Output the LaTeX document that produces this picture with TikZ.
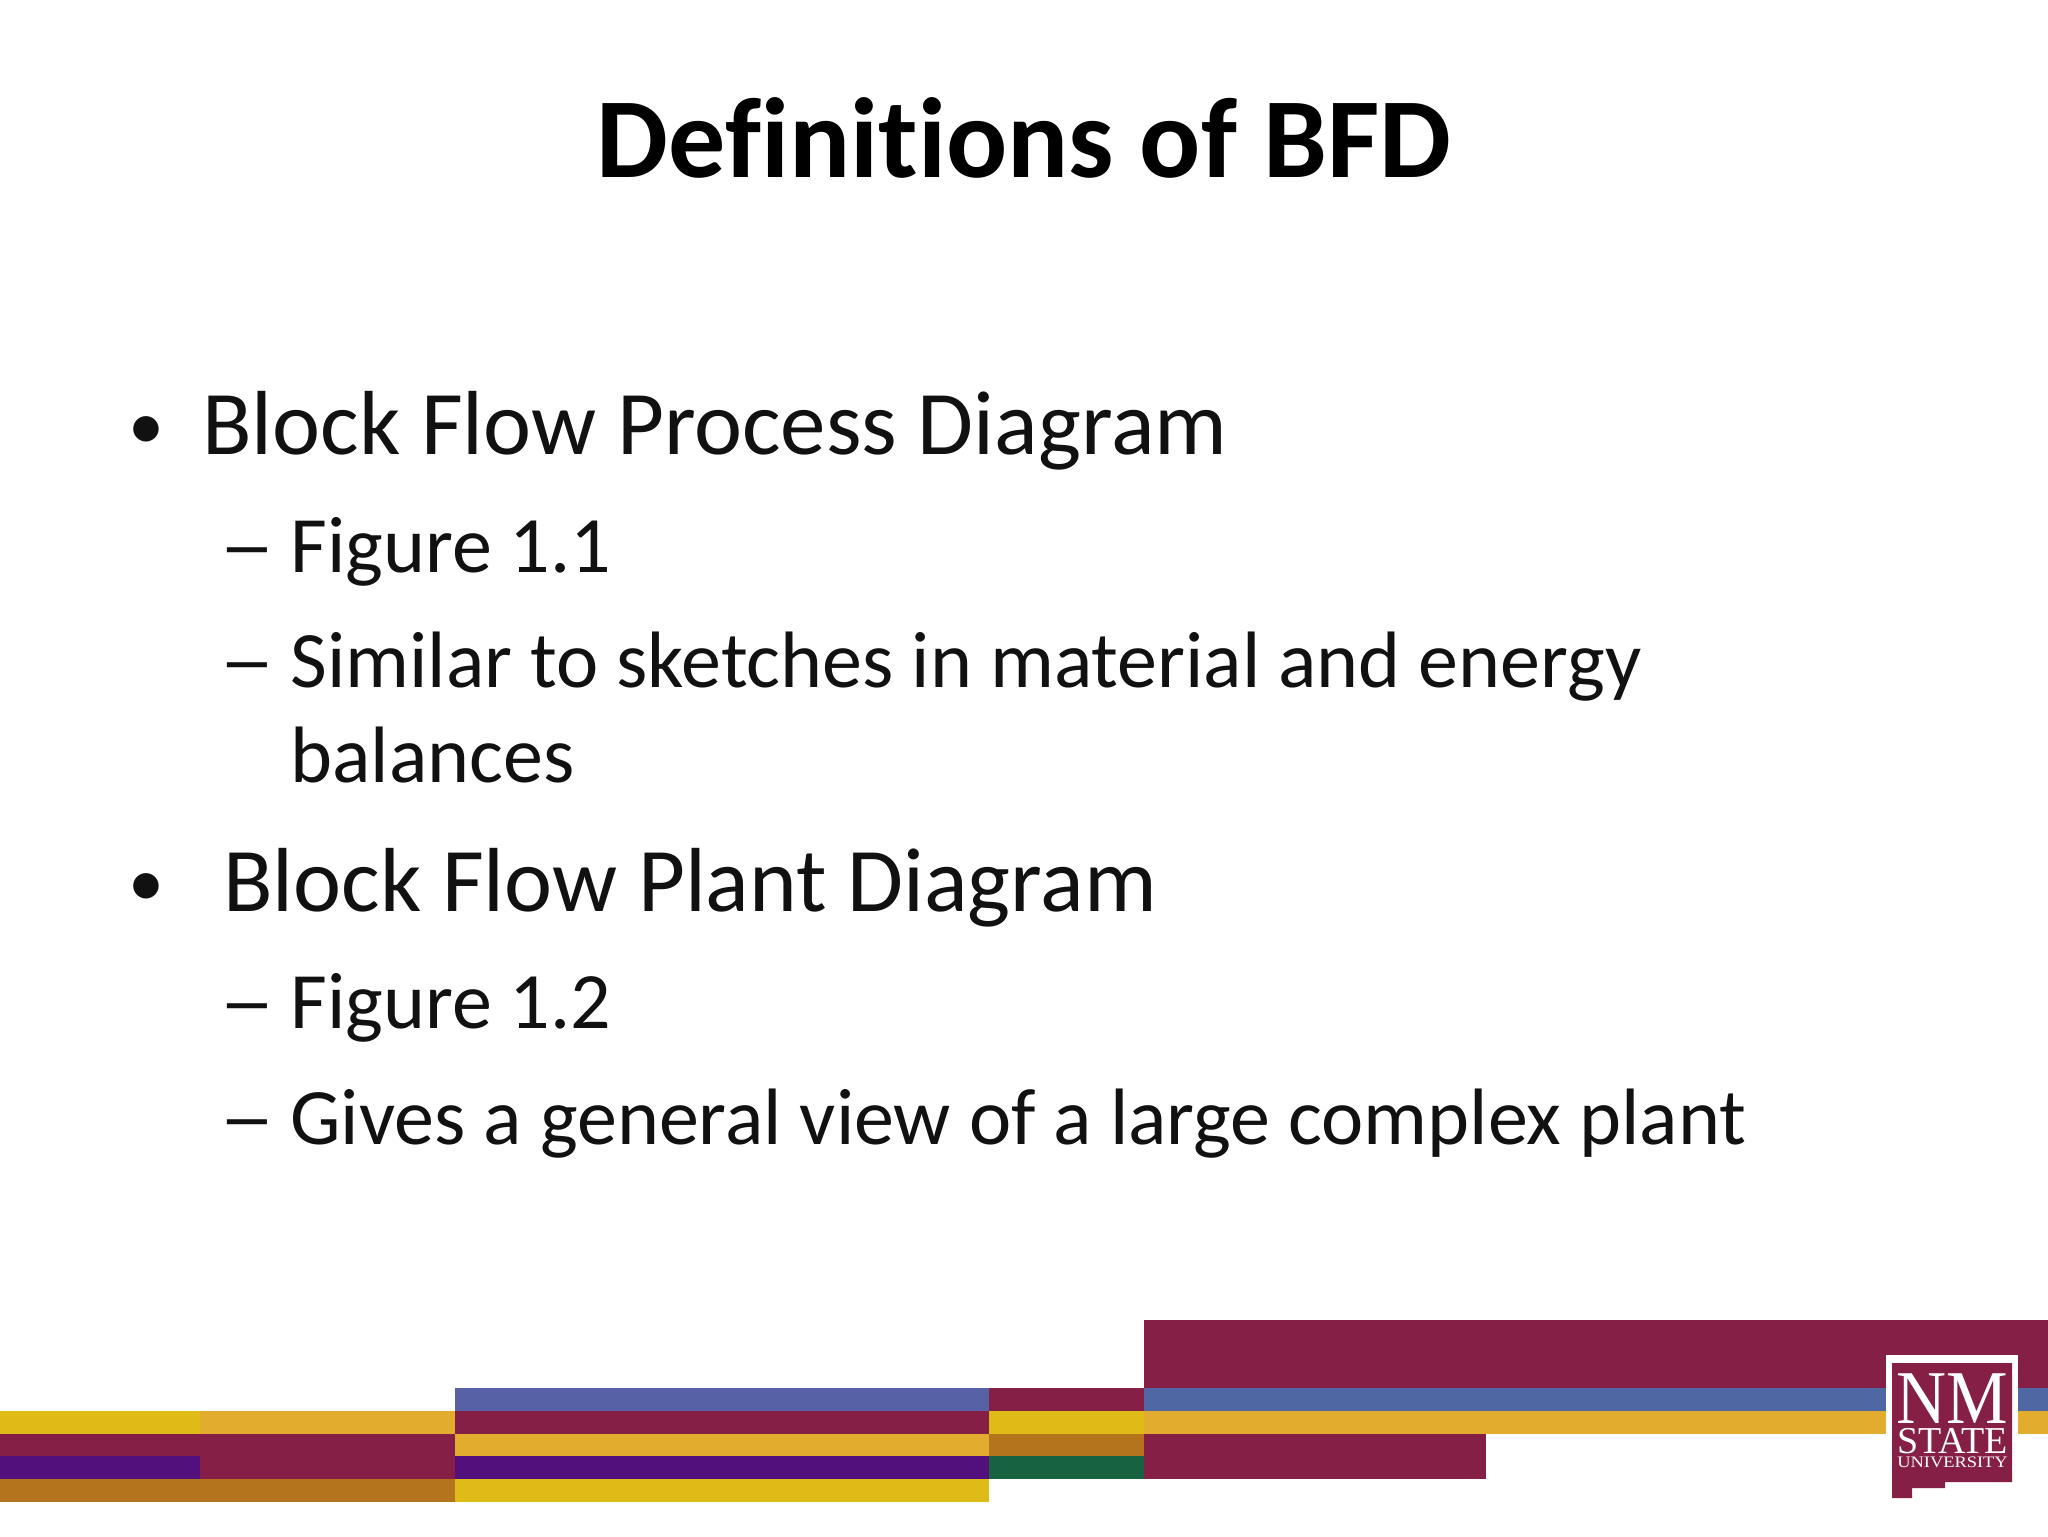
\documentclass[tikz,border=0pt]{standalone}
\usepackage{fontspec}
\usepackage{graphicx}
\setmainfont{Carlito}[Ligatures=NoCommon]
\newfontfamily\logofont{Liberation Serif}
\definecolor{maroon}{HTML}{861F45}
\definecolor{slate}{HTML}{5761A5}
\definecolor{bluish}{HTML}{4F68A4}
\definecolor{amber}{HTML}{E2AD2E}
\definecolor{lemon}{HTML}{DFBB17}
\definecolor{violet2}{HTML}{51107B}
\definecolor{ochre}{HTML}{B4741E}
\definecolor{forest}{HTML}{17633F}
\definecolor{ink}{HTML}{111111}
\tikzset{
  x=0.5pt,y=-0.5pt,
  titletext/.style={anchor=base,inner sep=0,font=\fontsize{57}{64}\selectfont\bfseries,text=black},
  leveltext/.style={anchor=base west,inner sep=0,font=\fontsize{45.5}{50}\selectfont,text=ink},
  subtext/.style={anchor=base west,inner sep=0,font=\fontsize{40}{46}\selectfont,text=ink},
  logotext/.style={anchor=base,inner sep=0,text=white},
}
\newcommand{\band}[5]{\fill[#5] (#1,#3) rectangle (#2,#4);}
\newcommand{\bulletmark}{\fontsize{36}{40}\selectfont\raisebox{2.2pt}{•}}
\newcommand{\dashmark}{\scalebox{1.4}[1]{–}}
\begin{document}
\begin{tikzpicture}
\useasboundingbox (0,0) rectangle (2048,1536);
\fill[white] (0,0) rectangle (2048,1536);
% title and text
\node[titletext] (title) at (1024,177) {Definitions of BFD};
\node[leveltext] (b1) at (128,454) {\bulletmark};
\node[leveltext] (t1) at (202,454) {Block Flow Process Diagram};
\node[subtext] (d1) at (219,572) {\dashmark};
\node[subtext] (s1) at (290,572) {Figure 1.1};
\node[subtext] (d2) at (219,687) {\dashmark};
\node[subtext] (s2) at (290,687) {Similar to sketches in material and energy};
\node[subtext] (s2b) at (290,782) {balances};
\node[leveltext] (b2) at (128,911) {\bulletmark};
\node[leveltext] (t2) at (223,911) {Block Flow Plant Diagram};
\node[subtext] (d3) at (219,1028) {\dashmark};
\node[subtext] (s3) at (290,1028) {Figure 1.2};
\node[subtext] (d4) at (219,1144) {\dashmark};
\node[subtext] (s4) at (290,1144) {Gives a general view of a large complex plant};
% left block
\band{0}{200}{1411}{1434}{lemon}
\band{200}{455}{1411}{1434}{amber}
\band{0}{455}{1434}{1479}{maroon}
\band{0}{200}{1456}{1479}{violet2}
\band{0}{455}{1479}{1502}{ochre}
% middle block
\band{455}{989}{1388}{1411}{slate}
\band{455}{989}{1411}{1434}{maroon}
\band{455}{989}{1434}{1456}{amber}
\band{455}{989}{1456}{1479}{violet2}
\band{455}{989}{1479}{1502}{lemon}
% narrow block
\band{989}{1144}{1388}{1411}{maroon}
\band{989}{1144}{1411}{1434}{lemon}
\band{989}{1144}{1434}{1456}{ochre}
\band{989}{1144}{1456}{1479}{forest}
% right block
\band{1144}{2048}{1320}{1388}{maroon}
\band{1144}{2048}{1388}{1411}{bluish}
\band{1144}{2048}{1411}{1434}{amber}
\band{1144}{1486}{1434}{1479}{maroon}
% logo
\fill[white] (1886,1355) rectangle (2018,1525);
\fill[maroon] (1892,1363) -- (2012,1363) -- (2012,1482) -- (1945,1482) -- (1945,1488) -- (1912,1488) -- (1912,1498) -- (1892,1498) -- cycle;
\node[logotext,font=\logofont\fontsize{38}{38}\selectfont] (nm) at (1952.5,1423) {\scalebox{0.91}[1]{NM}};
\node[logotext,font=\logofont\fontsize{19}{19}\selectfont] (st) at (1952.5,1453) {STATE};
\node[logotext,font=\logofont\fontsize{8}{8}\selectfont] (un) at (1952.5,1467) {\scalebox{1.15}[1]{UNIVERSITY}};
\end{tikzpicture}
\end{document}
